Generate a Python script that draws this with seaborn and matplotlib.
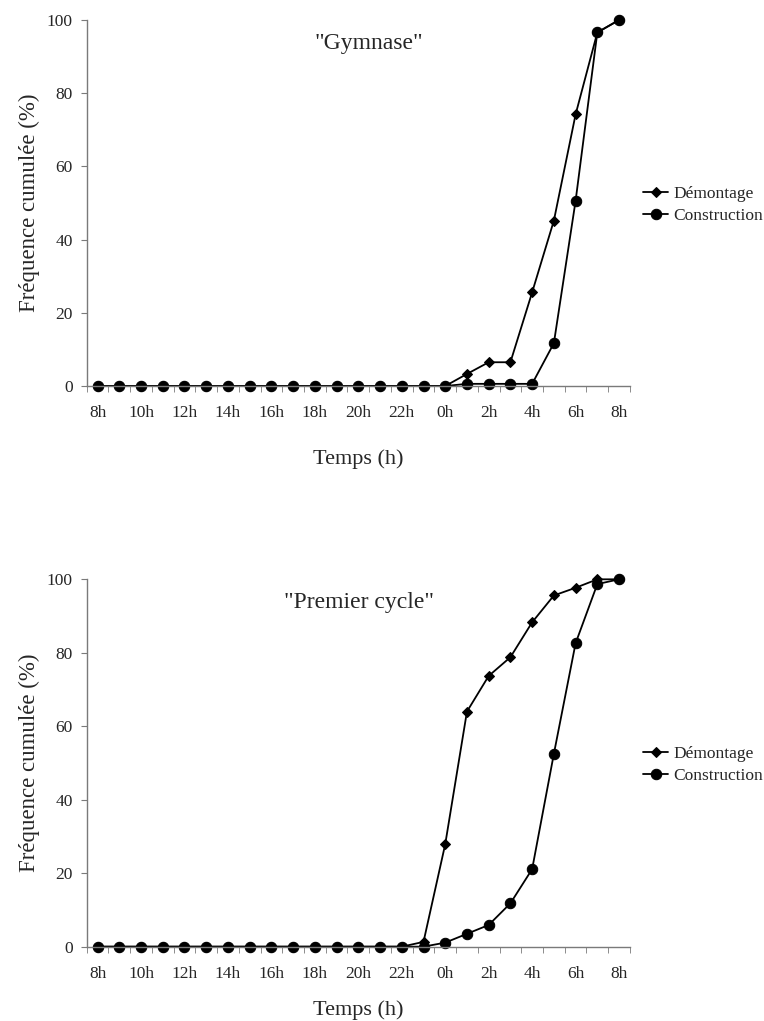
import numpy as np
import pandas as pd
import matplotlib
matplotlib.use("Agg")
import matplotlib.pyplot as plt
import seaborn as sns

# hourly categories, 8h -> 8h next morning
hours = ["8h", "9h", "10h", "11h", "12h", "13h", "14h", "15h", "16h", "17h",
         "18h", "19h", "20h", "21h", "22h", "23h", "0h", "1h", "2h", "3h",
         "4h", "5h", "6h", "7h", "8h"]
tick_labels = ["8h", "10h", "12h", "14h", "16h", "18h", "20h", "22h",
               "0h", "2h", "4h", "6h", "8h"]

# "Gymnase"
gym_demontage = [0, 0, 0, 0, 0, 0, 0, 0, 0, 0, 0, 0, 0, 0, 0, 0, 0,
                 3.3, 6.5, 6.5, 25.6, 45.2, 74.2, 96.6, 100]
gym_construction = [0, 0, 0, 0, 0, 0, 0, 0, 0, 0, 0, 0, 0, 0, 0, 0, 0,
                    0.6, 0.6, 0.6, 0.6, 11.7, 50.6, 96.6, 100]

# "Premier cycle"
pc_demontage = [0, 0, 0, 0, 0, 0, 0, 0, 0, 0, 0, 0, 0, 0, 0, 1.3, 27.9,
                64.0, 73.7, 78.8, 88.3, 95.6, 97.7, 100, 100]
pc_construction = [0, 0, 0, 0, 0, 0, 0, 0, 0, 0, 0, 0, 0, 0, 0, 0, 1.1,
                   3.5, 5.9, 11.8, 21.1, 52.5, 82.6, 98.7, 100]

sns.set_style("white")
plt.rcParams["font.family"] = ["Liberation Serif", "DejaVu Serif"]

fig = plt.figure(figsize=(7.64, 10.21), dpi=100)
ax_top = fig.add_axes([0.1135, 0.6219, 0.711, 0.3585])
ax_bot = fig.add_axes([0.1135, 0.0728, 0.711, 0.3598])

pos = np.arange(len(hours))
spine_col = "#7a7a7a"


def draw_panel(ax, dem, con, title, tx, xpad):
    df = pd.DataFrame({"pos": pos, "Démontage": dem, "Construction": con})
    sns.lineplot(data=df, x="pos", y="Démontage", ax=ax, color="black",
                 marker="D", markersize=5.5, linewidth=1.3,
                 markeredgecolor="black", label="Démontage", clip_on=False)
    sns.lineplot(data=df, x="pos", y="Construction", ax=ax, color="black",
                 marker="o", markersize=7.5, linewidth=1.3,
                 markeredgecolor="black", label="Construction", clip_on=False)
    ax.set_xlim(-0.5, 24.5)
    ax.set_ylim(0, 100)
    ax.set_yticks([0, 20, 40, 60, 80, 100])
    ax.set_xticks(np.arange(0, 25, 2))
    ax.set_xticklabels(tick_labels)
    ax.set_xticks(np.arange(-0.5, 25, 1), minor=True)
    ax.tick_params(axis="x", which="major", length=0, labelsize=12.5, pad=14)
    ax.tick_params(axis="x", which="minor", length=4, color=spine_col,
                   direction="out", bottom=True)
    ax.tick_params(axis="y", length=4, color=spine_col, direction="out",
                   left=True, labelsize=12.5, pad=6)
    for s in ["top", "right"]:
        ax.spines[s].set_visible(False)
    for s in ["left", "bottom"]:
        ax.spines[s].set_color(spine_col)
        ax.spines[s].set_linewidth(1.0)
    ax.set_xlabel("Temps (h)", fontsize=16, labelpad=xpad)
    ax.set_ylabel("Fréquence cumulée (%)", fontsize=16.5, labelpad=5)
    ax.text(tx, 0.937, title, transform=ax.transAxes, ha="center",
            va="center", fontsize=17)
    ax.legend(loc="center left", bbox_to_anchor=(1.024, 0.495), frameon=False,
              fontsize=12.5, handlelength=1.45, handletextpad=0.3,
              borderaxespad=0, borderpad=0, labelspacing=0.35)


draw_panel(ax_top, gym_demontage, gym_construction, '"Gymnase"', 0.52, 20)
draw_panel(ax_bot, pc_demontage, pc_construction, '"Premier cycle"', 0.502, 13)

fig.savefig("out.png", dpi=100)
